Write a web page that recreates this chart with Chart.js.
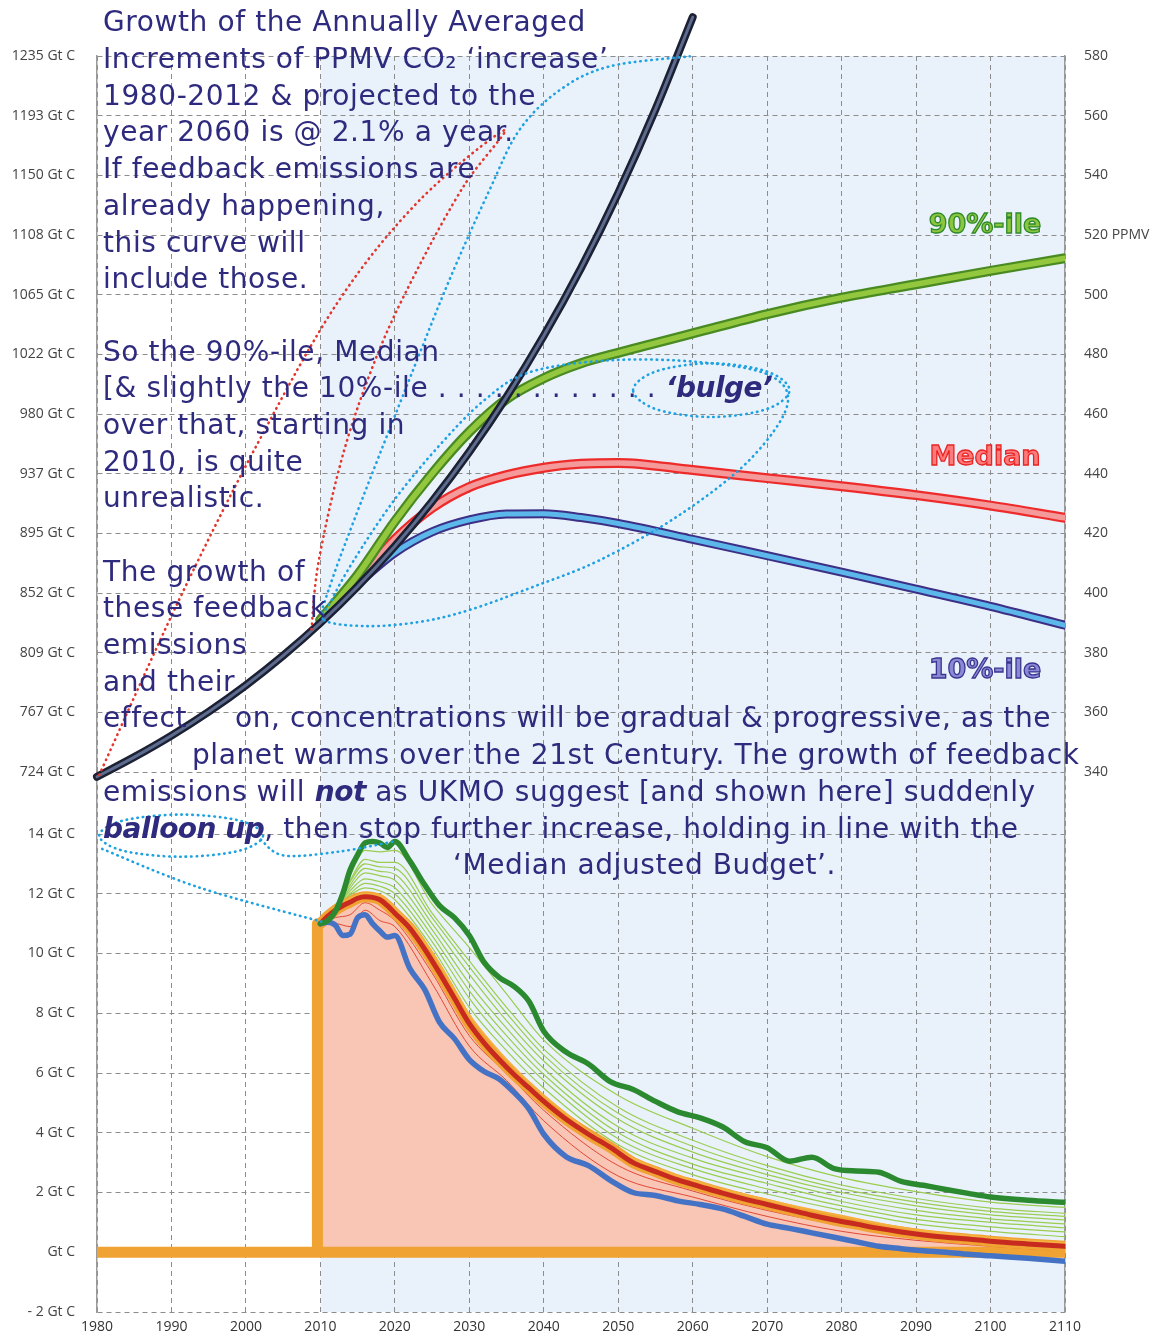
<!DOCTYPE html>
<html>
<head>
<meta charset="utf-8">
<script src="https://cdn.jsdelivr.net/npm/chart.js@4.4.1/dist/chart.umd.min.js"></script>
<style>
  body { margin: 0; background: #fff; }
  #wrap { position: relative; width: 1155px; height: 1336px; overflow: hidden; }
  #c { position: absolute; left: 0; top: 0; }
  .note {
    position: absolute; white-space: nowrap; transform: translateY(-50%);
    font-family: 'DejaVu Sans', sans-serif; font-size: 28px; letter-spacing: 0.6px; line-height: 34px; color: #2e2a7d;
  }
  .note b { letter-spacing: -0.5px; }
  .tag {
    position: absolute; white-space: nowrap; transform: translate(-50%, -50%);
    font-family: 'DejaVu Sans', sans-serif; font-weight: bold; font-size: 27px; -webkit-text-stroke: 1.3px;
  }
</style>
</head>
<body>
<div id="wrap">
  <canvas id="c" width="1155" height="1336"></canvas>
  <div id="notes"></div>
</div>
<script>
// --- concentrations (PPMV) ---
const TREND_YEARS = [1980, 1985, 1990, 1995, 2000, 2005, 2010, 2015, 2020, 2025, 2030, 2035, 2040, 2045, 2050, 2055, 2060]
const PPMV_TREND = [338.4, 345, 352.2, 360.2, 369.1, 379, 390, 402.2, 415.7, 430.7, 447.3, 465.7, 486.2, 508.9, 534.1, 562.1, 593]

const PROJ_YEARS = [2010, 2015, 2020, 2025, 2030, 2035, 2040, 2045, 2050, 2060, 2070, 2080, 2090, 2100, 2110]
const PPMV_P90 = [391, 406, 424, 440, 454, 465, 472, 477, 480.5, 487, 493.5, 499, 503.5, 508, 512.2]
const PPMV_MEDIAN = [391, 404, 418, 428.5, 435.5, 439.5, 442, 443.3, 443.6, 441.2, 438.5, 435.8, 432.8, 429.3, 425.2]
const PPMV_P10 = [391, 403, 413.5, 420.5, 424.5, 426.5, 426.6, 425.3, 423.3, 418, 412.5, 407, 401.3, 395.5, 389.2]

// --- emissions (Gt C) ---
const EMIT_YEARS = [2010, 2011, 2012, 2013, 2014, 2015, 2016, 2017, 2018, 2019, 2020,
  2022, 2024, 2026, 2028, 2030, 2032, 2034, 2036, 2038, 2040,
  2043, 2046, 2049, 2052, 2055, 2058, 2061, 2064, 2067, 2070, 2073, 2076, 2079, 2082, 2085, 2088, 2091, 2094, 2097, 2100,
  2105, 2110]
const EMIT_P90 = [11.0, 11.1, 11.4, 12.0, 12.8, 13.3, 13.7, 13.75, 13.7, 13.55, 13.75,
  13.1, 12.3, 11.6, 11.2, 10.6, 9.7, 9.2, 8.9, 8.4, 7.4,
  6.7, 6.3, 5.7, 5.45, 5.05, 4.7, 4.5, 4.2, 3.7, 3.5, 3.05, 3.18, 2.8, 2.72, 2.68, 2.37, 2.24, 2.1, 1.97, 1.85,
  1.74, 1.67]
const EMIT_MEDIAN = [11.0, 11.25, 11.45, 11.6, 11.72, 11.85, 11.9, 11.88, 11.8, 11.6, 11.35,
  10.85, 10.15, 9.35, 8.5, 7.65, 7.0, 6.45, 5.95, 5.5, 5.05,
  4.45, 3.95, 3.5, 3.0, 2.7, 2.42, 2.2, 1.98, 1.78, 1.6, 1.42, 1.24, 1.08, 0.94, 0.8, 0.68, 0.58, 0.5, 0.44, 0.37,
  0.28, 0.2]
const EMIT_P10 = [11.0, 11.05, 10.95, 10.6, 10.65, 11.2, 11.3, 11.0, 10.75, 10.55, 10.6,
  9.5, 8.8, 7.7, 7.15, 6.45, 6.05, 5.8, 5.35, 4.8, 3.95,
  3.2, 2.9, 2.4, 2.0, 1.9, 1.72, 1.6, 1.45, 1.2, 0.94, 0.8, 0.65, 0.5, 0.35, 0.2, 0.12, 0.05, 0.0, -0.07, -0.12,
  -0.2, -0.3]

// thinner ensemble members
const MEMBER_YEARS = [2010, 2012, 2014, 2016, 2018, 2020, 2025, 2030, 2035, 2040, 2050, 2060, 2070, 2080, 2090, 2100, 2110]
const UPPER_MEMBERS = [
  [11.0, 11.5, 11.95, 12.2, 12.1, 11.8, 10.2, 8.2, 6.75, 5.5, 3.6, 2.6, 1.95, 1.4, 0.95, 0.7, 0.52],
  [11.0, 11.5, 12.0, 12.35, 12.25, 12.0, 10.4, 8.5, 7.0, 5.75, 3.8, 2.8, 2.12, 1.55, 1.1, 0.85, 0.68],
  [11.0, 11.5, 12.1, 12.5, 12.4, 12.2, 10.6, 8.75, 7.25, 5.95, 4.0, 2.95, 2.3, 1.7, 1.25, 1.0, 0.82],
  [11.0, 11.45, 12.2, 12.7, 12.6, 12.45, 10.8, 9.0, 7.5, 6.15, 4.2, 3.15, 2.45, 1.85, 1.4, 1.12, 0.95],
  [11.0, 11.45, 12.3, 12.85, 12.75, 12.65, 11.0, 9.3, 7.75, 6.4, 4.45, 3.35, 2.6, 2.0, 1.55, 1.25, 1.08],
  [11.0, 11.45, 12.4, 13.0, 12.9, 12.85, 11.2, 9.55, 8.0, 6.6, 4.65, 3.55, 2.75, 2.12, 1.68, 1.37, 1.2],
  [11.0, 11.45, 12.45, 13.15, 13.05, 13.05, 11.35, 9.75, 8.2, 6.8, 4.85, 3.75, 2.9, 2.25, 1.8, 1.48, 1.3],
  [11.0, 11.4, 12.6, 13.45, 13.4, 13.45, 11.65, 10.2, 8.65, 7.1, 5.25, 4.15, 3.2, 2.5, 2.03, 1.68, 1.5],
]
const LOWER_MEMBERS = [
  [11.0, 11.0, 10.9, 11.45, 11.1, 10.9, 9.0, 6.9, 5.75, 4.4, 2.55, 1.85, 1.2, 0.7, 0.4, 0.2, 0.05],
  [11.0, 11.2, 11.3, 11.7, 11.45, 11.1, 9.35, 7.25, 6.0, 4.75, 2.9, 2.05, 1.4, 0.9, 0.5, 0.3, 0.12],
]
const ORANGE_MEMBER = [11.0, 11.55, 11.85, 12.0, 11.95, 11.55, 10.05, 7.95, 6.45, 5.25, 3.4, 2.4, 1.75, 1.22, 0.75, 0.48, 0.3]

// zero line with the step up to the 2010 emissions
const BASE_YEARS = [1980, 2009.6, 2009.6, 2009.6, 2110]
const BASE_VALUES = [0, 0, 11.0, 0, 0]

const GTC_PER_PPMV = 2.13

const CYAN = '#1da1e2'
const RED_DOT = '#e3352c'
const ORANGE = '#f0a232'

// dotted annotation loops, in [year, value] on the given axis
const NOTE_PATHS = [
  { axis: 'yTop', color: CYAN, closed: true, pts: [[2010.5, 390.9], [2016.2, 388.9], [2023.3, 390.3], [2030, 394.3], [2038.5, 402], [2047.5, 411], [2058.2, 426.1], [2067.6, 444.5], [2072.7, 462.9], [2070.3, 473], [2060.9, 477.4], [2048.8, 478], [2038.1, 474], [2032, 464.6], [2026, 449.5], [2019.9, 431.1], [2014.5, 411], [2011.5, 397.6]] },
  { axis: 'yTop', color: CYAN, closed: true, pts: [[2052, 468], [2055.1, 474.3], [2062.5, 477], [2069.9, 474.3], [2073, 468], [2069.9, 461.6], [2062.5, 459], [2055.1, 461.6]] },
  { axis: 'yTop', color: CYAN, closed: false, pts: [[2010.1, 393.6], [2012.5, 411], [2016.6, 437.8], [2021.9, 471.3], [2027.3, 504.8], [2032.7, 535], [2036.7, 555.1], [2042.1, 568.5], [2048.8, 576.5], [2059.6, 579.9]] },
  { axis: 'yTop', color: RED_DOT, closed: false, pts: [[1980.3, 339], [1991, 397.6], [2001.8, 451.2], [2012.5, 498.1], [2023.3, 531.6], [2034.7, 555.1], [2029.3, 536.6], [2023.3, 509.8], [2017.9, 481.4], [2013.2, 447.9], [2009.8, 411], [2008.8, 387.6]] },
  { axis: 'yBot', color: CYAN, closed: true, pts: [[1980.3, 13.95], [1983.5, 14.45], [1991.3, 14.65], [1999.1, 14.45], [2002.3, 13.95], [1999.1, 13.44], [1991.3, 13.24], [1983.5, 13.44]] },
  { axis: 'yBot', color: CYAN, closed: false, pts: [[1980.7, 13.5], [1993.7, 12.21], [2010.1, 11.07]] },
  { axis: 'yBot', color: CYAN, closed: false, pts: [[2002, 13.81], [2005.1, 13.28], [2012.5, 13.41], [2019.9, 13.75]] },
]

const NOTES = [
  ['Growth of the Annually Averaged', 103, 22],
  ['Increments of PPMV CO₂ ‘increase’', 103, 59],
  ['1980-2012 &amp; projected to the', 103, 96],
  ['year 2060 is @ 2.1% a year.', 103, 132],
  ['If feedback emissions are', 103, 169],
  ['already happening,', 103, 206],
  ['this curve will', 103, 243],
  ['include those.', 103, 279],
  ['So the 90%-ile, Median', 103, 352],
  ['[&amp; slightly the 10%-ile . . . . . . . . . . . . <b><i>‘bulge’</i></b>', 103, 388],
  ['over that, starting in', 103, 425],
  ['2010, is quite', 103, 462],
  ['unrealistic.', 103, 498],
  ['The growth of', 103, 572],
  ['these feedback', 103, 608],
  ['emissions', 103, 645],
  ['and their', 103, 682],
  ['effect', 103, 718],
  ['on, concentrations will be gradual &amp; progressive, as the', 235, 718],
  ['planet warms over the 21st Century. The growth of feedback', 192, 755],
  ['emissions will <b><i>not</i></b> as UKMO suggest [and shown here] suddenly', 103, 792],
  ['<b><i>balloon up</i></b>, then stop further increase, holding in line with the', 103, 829],
  ['‘Median adjusted Budget’.', 453, 865],
]

const TAGS = [
  ['90%-ile', 985, 223, '#8cc63f', '#2f8a2a'],
  ['Median', 985, 455, '#ff7a7a', '#e82424'],
  ['10%-ile', 985, 668, '#8b88d6', '#3b3590'],
]

const notesEl = document.getElementById('notes')
NOTES.forEach(([html, x, y]) => {
  const d = document.createElement('div')
  d.className = 'note'
  d.style.left = x + 'px'
  d.style.top = y + 'px'
  d.innerHTML = html
  notesEl.appendChild(d)
})
TAGS.forEach(([text, x, y, fill, stroke]) => {
  const d = document.createElement('div')
  d.className = 'tag'
  d.style.left = x + 'px'
  d.style.top = y + 'px'
  d.style.color = fill
  d.style.webkitTextStroke = '1.3px ' + stroke
  d.textContent = text
  notesEl.appendChild(d)
})

function series(xs, ys) {
  return xs.map((x, i) => ({ x: x, y: ys[i] }))
}

function line(label, xs, ys, axis, color, width, order, extra) {
  return Object.assign({
    label: label,
    data: series(xs, ys),
    yAxisID: axis,
    borderColor: color,
    borderWidth: width,
    order: order,
    pointRadius: 0,
    fill: false,
    cubicInterpolationMode: 'monotone',
    borderCapStyle: 'round',
    borderJoinStyle: 'round',
  }, extra || {})
}

// catmull-rom through the points
function smoothPath(ctx, p, closed) {
  const n = p.length
  const get = (i) => closed ? p[(i + n) % n] : p[Math.min(Math.max(i, 0), n - 1)]
  ctx.moveTo(p[0][0], p[0][1])
  const segs = closed ? n : n - 1
  for (let i = 0; i < segs; i++) {
    const p0 = get(i - 1), p1 = get(i), p2 = get(i + 1), p3 = get(i + 2)
    ctx.bezierCurveTo(
      p1[0] + (p2[0] - p0[0]) / 6, p1[1] + (p2[1] - p0[1]) / 6,
      p2[0] - (p3[0] - p1[0]) / 6, p2[1] - (p3[1] - p1[1]) / 6,
      p2[0], p2[1])
  }
}

const sketchNotes = {
  id: 'sketchNotes',
  beforeDraw(chart) {
    const { ctx, chartArea, scales } = chart
    const left = scales.x.getPixelForValue(2010)
    ctx.save()
    ctx.fillStyle = '#e9f2fa'
    ctx.fillRect(left, chartArea.top, chartArea.right - left, chartArea.bottom - chartArea.top)
    ctx.restore()
  },
  afterDatasetsDraw(chart) {
    const { ctx, scales } = chart
    ctx.save()
    ctx.lineWidth = 2.6
    ctx.lineCap = 'round'
    ctx.setLineDash([0.5, 5])
    NOTE_PATHS.forEach((path) => {
      const yScale = scales[path.axis]
      const pts = path.pts.map(([yr, v]) => [scales.x.getPixelForValue(yr), yScale.getPixelForValue(v)])
      ctx.strokeStyle = path.color
      ctx.beginPath()
      smoothPath(ctx, pts, path.closed)
      if (path.closed) ctx.closePath()
      ctx.stroke()
    })
    ctx.restore()
  },
}

// fixed axis sizes; drop the label overhang so the plot keeps its full height
function fixWidth(w) {
  return (s) => { s.width = w; s.paddingTop = 0; s.paddingBottom = 0 }
}

const tickFont = { family: "'Open Sans', sans-serif", size: 14 }
const gridStyle = { color: '#8c8c8c', lineWidth: 1, drawTicks: false }
const dashBorder = { color: '#9a9a9a', width: 1.5, dash: [5, 4] }

const datasets = [
  line('emission fill', EMIT_YEARS, EMIT_MEDIAN, 'yBot', 'rgba(0,0,0,0)', 0, 100, { fill: { value: 0 }, backgroundColor: '#f9c5b4' }),
  line('base', BASE_YEARS, BASE_VALUES, 'yBot', ORANGE, 11, 95, { cubicInterpolationMode: 'default', tension: 0, borderCapStyle: 'butt' }),
  ...UPPER_MEMBERS.map((m, i) => line('upper ' + i, MEMBER_YEARS, m, 'yBot', '#9acd50', 1.2, 90)),
  ...LOWER_MEMBERS.map((m, i) => line('lower ' + i, MEMBER_YEARS, m, 'yBot', '#e2483a', 1, 90)),
  line('median underlay', EMIT_YEARS, EMIT_MEDIAN, 'yBot', ORANGE, 11, 86),
  line('orange member', MEMBER_YEARS, ORANGE_MEMBER, 'yBot', '#f5b040', 2, 85),
  line('10%-ile emissions', EMIT_YEARS, EMIT_P10, 'yBot', '#4472c4', 5.5, 80),
  line('median emissions', EMIT_YEARS, EMIT_MEDIAN, 'yBot', '#c72a1f', 5, 79),
  line('90%-ile emissions', EMIT_YEARS, EMIT_P90, 'yBot', '#2b8a2f', 5.5, 78),

  line('10%-ile edge', PROJ_YEARS, PPMV_P10, 'yTop', '#3d2f85', 9, 60),
  line('10%-ile', PROJ_YEARS, PPMV_P10, 'yTop', '#5cb8ea', 5, 59),
  line('median edge', PROJ_YEARS, PPMV_MEDIAN, 'yTop', '#ee2b2b', 10, 58),
  line('median', PROJ_YEARS, PPMV_MEDIAN, 'yTop', '#f59a9a', 5.5, 57),
  line('90%-ile edge', PROJ_YEARS, PPMV_P90, 'yTop', '#4a8a22', 10, 56),
  line('90%-ile', PROJ_YEARS, PPMV_P90, 'yTop', '#93c83e', 5.5, 55),
  line('trend edge', TREND_YEARS, PPMV_TREND, 'yTop', '#1b2033', 8, 51, { clip: false }),
  line('trend', TREND_YEARS, PPMV_TREND, 'yTop', '#5d6b8e', 3, 50, { clip: false }),
]

new Chart(document.getElementById('c'), {
  type: 'line',
  data: { datasets: datasets },
  options: {
    responsive: false,
    devicePixelRatio: 1,
    animation: false,
    layout: { padding: { top: 56, left: 0, right: 0, bottom: 0 } },
    plugins: { legend: { display: false }, tooltip: { enabled: false } },
    scales: {
      x: {
        type: 'linear', min: 1980, max: 2110,
        ticks: { stepSize: 10, font: tickFont, color: '#333', padding: 7, maxRotation: 0, callback: (v) => String(v) },
        grid: gridStyle,
        border: { display: false, dash: [5, 4] },
        afterFit: (s) => { s.height = 24 },
      },
      // left stack: highest weight sits on top
      yTop: {
        type: 'linear', position: 'left', stack: 'panels', stackWeight: 716, weight: 3,
        min: 340, max: 580,
        ticks: { stepSize: 20, font: tickFont, color: '#444', padding: 22, callback: (v) => Math.round(v * GTC_PER_PPMV) + ' Gt C' },
        grid: gridStyle, border: dashBorder,
        afterFit: fixWidth(97),
      },
      yGap: {
        type: 'linear', position: 'left', stack: 'panels', stackWeight: 62, weight: 2,
        min: 0, max: 1,
        ticks: { display: false }, grid: { display: false }, border: { color: '#9a9a9a', width: 1.5 },
        afterFit: fixWidth(97),
      },
      yBot: {
        type: 'linear', position: 'left', stack: 'panels', stackWeight: 478, weight: 1,
        min: -2, max: 14,
        ticks: {
          stepSize: 2, font: tickFont, color: '#444', padding: 22,
          callback: (v) => v === 0 ? 'Gt C' : (v < 0 ? '- ' + (-v) : v) + ' Gt C',
        },
        grid: gridStyle, border: dashBorder,
        afterFit: fixWidth(97),
      },
      // right stack: lowest weight sits on top
      yTopR: {
        type: 'linear', position: 'right', stack: 'panels', stackWeight: 716, weight: 1,
        min: 340, max: 580,
        ticks: { stepSize: 20, font: tickFont, color: '#444', padding: 11, callback: (v) => v === 520 ? '520 PPMV' : String(v) },
        grid: { display: false }, border: { color: '#9a9a9a', width: 1.5 },
        afterFit: fixWidth(90),
      },
      yGapR: {
        type: 'linear', position: 'right', stack: 'panels', stackWeight: 62, weight: 2,
        min: 0, max: 1,
        ticks: { display: false }, grid: { display: false }, border: { color: '#9a9a9a', width: 1.5 },
        afterFit: fixWidth(90),
      },
      yBotR: {
        type: 'linear', position: 'right', stack: 'panels', stackWeight: 478, weight: 3,
        min: -2, max: 14,
        ticks: { display: false }, grid: { display: false }, border: { color: '#9a9a9a', width: 1.5 },
        afterFit: fixWidth(90),
      },
    },
  },
  plugins: [sketchNotes],
})
</script>
</body>
</html>
